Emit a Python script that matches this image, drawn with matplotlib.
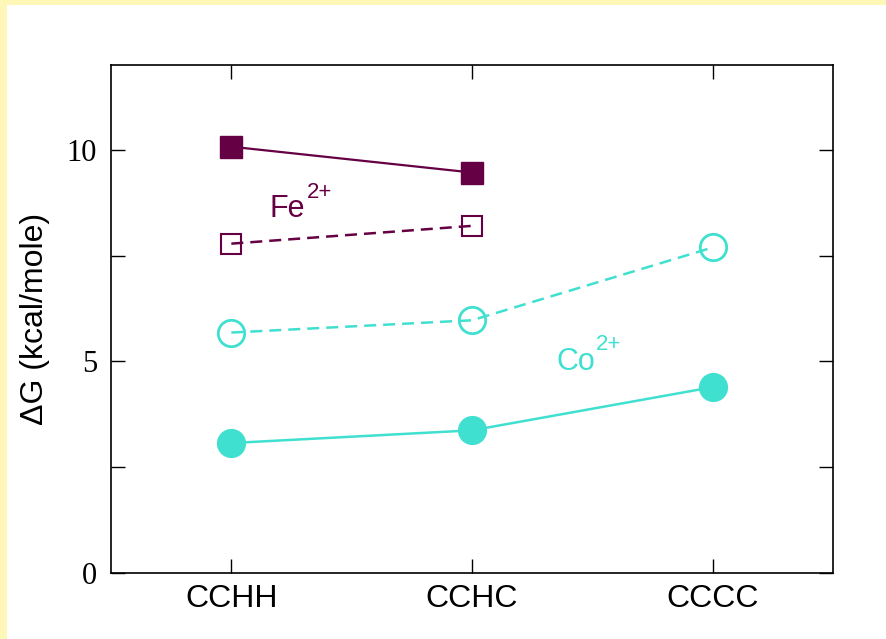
import matplotlib
matplotlib.use("Agg")
import matplotlib.pyplot as plt
from matplotlib.patches import Rectangle
from matplotlib.ticker import MultipleLocator
from matplotlib.transforms import offset_copy

categories = ["CCHH", "CCHC", "CCCC"]
fe_solid = [10.07, 9.46]
fe_open = [7.78, 8.20]
co_open = [5.68, 5.97, 7.69]
co_solid = [3.07, 3.37, 4.39]

fe_color = "#660044"
co_color = "#40E0D0"

fig = plt.figure(figsize=(8.86, 6.39), dpi=100)
fig.patch.set_facecolor("white")
yellow = "#FFF7B7"
fig.patches.append(Rectangle((0, 1 - 5 / 639), 1, 5 / 639, transform=fig.transFigure,
                             facecolor=yellow, edgecolor="none", zorder=0))
fig.patches.append(Rectangle((0, 0), 7 / 886, 1, transform=fig.transFigure,
                             facecolor=yellow, edgecolor="none", zorder=0))

ax = fig.add_axes([111 / 886, 1 - 573 / 639, (833 - 111) / 886, (573 - 65) / 639])

dash = (0, (4.8, 2.8))
x = list(range(len(categories)))
ax.plot(x[:2], fe_solid, color=fe_color, lw=1.6, marker="s", ms=16,
        markerfacecolor=fe_color, markeredgecolor=fe_color)
ax.plot(x[:2], fe_open, color=fe_color, lw=1.8, ls=dash, marker="s", ms=15,
        markerfacecolor="none", markeredgecolor=fe_color, markeredgewidth=1.5)
ax.plot(x, co_open, color=co_color, lw=1.8, ls=dash, marker="o", ms=19,
        markerfacecolor="none", markeredgecolor=co_color, markeredgewidth=2)
ax.plot(x, co_solid, color=co_color, lw=1.8, marker="o", ms=20,
        markerfacecolor=co_color, markeredgecolor=co_color)

ax.set_xlim(-0.5, 2.5)
ax.set_ylim(0, 12)
ax.set_xticks(x)
ax.set_xticklabels(categories, fontfamily="Liberation Sans", fontsize=23)
ax.yaxis.set_major_locator(MultipleLocator(5))
ax.yaxis.set_minor_locator(MultipleLocator(2.5))
for lab in ax.get_yticklabels():
    lab.set_fontfamily("Liberation Serif")
    lab.set_fontsize(22)
ax.tick_params(axis="both", which="both", direction="in", length=10, width=1,
               top=True, right=True)
ax.tick_params(axis="x", pad=8)
ax.tick_params(axis="y", pad=10)
for s in ax.spines.values():
    s.set_linewidth(1.2)

ax.set_ylabel("ΔG (kcal/mole)", fontfamily="Liberation Sans", fontsize=23, labelpad=12)


def ion_label(xv, yv, base, sup, color):
    t = ax.text(xv, yv, base, color=color, fontsize=22, fontfamily="Liberation Sans",
                ha="left", va="baseline")
    fig.canvas.draw()
    bb = t.get_window_extent()
    w_pts = bb.width * 72.0 / fig.dpi
    tr = offset_copy(ax.transData, fig=fig, x=w_pts + 1, y=14, units="points")
    ax.text(xv, yv, sup, color=color, fontsize=16, fontfamily="Liberation Sans",
            ha="left", va="baseline", transform=tr)


ion_label(0.16, 8.4, "Fe", "2+", fe_color)
ion_label(1.35, 4.8, "Co", "2+", co_color)

fig.savefig("out.png", dpi=100)
